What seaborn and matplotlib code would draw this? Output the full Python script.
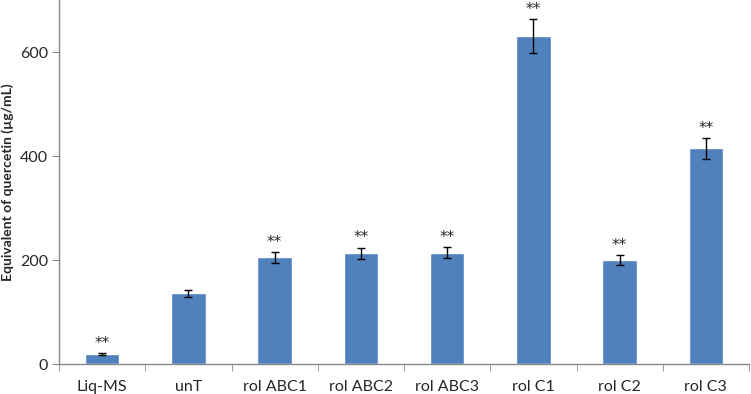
import seaborn as sns
import pandas as pd
import numpy as np
import matplotlib.pyplot as plt
from matplotlib.ticker import FixedLocator

samples = ["Liq-MS", "unT", "rol ABC1", "rol ABC2", "rol ABC3", "rol C1", "rol C2", "rol C3"]
quercetin = [19, 136, 205, 213, 214, 631, 200, 415]
sd = [2, 7, 11, 11, 11, 32, 10, 20]
signif = ["**", "", "**", "**", "**", "**", "**", "**"]

sns.set_style("white")
plt.rcParams['font.family'] = ['Lato', 'DejaVu Sans']

df = pd.DataFrame({"sample": samples, "value": quercetin, "sd": sd})

fig = plt.figure(figsize=(7.51, 3.94), dpi=100)
ax = fig.add_axes([59 / 751, 30 / 394, 690 / 751, 364 / 394])

sns.barplot(data=df, x="sample", y="value", color="#4f81bd", saturation=1,
            width=0.4, errorbar=None, ax=ax)
x = np.arange(len(samples))
ax.errorbar(x, df["value"], yerr=df["sd"], fmt="none", ecolor="black",
            elinewidth=1, capsize=3, capthick=1)

# significance stars above the error bars
for xi, v, e, s in zip(x, quercetin, sd, signif):
    if s:
        ax.text(xi, v + e + 4, s, ha="center", va="bottom", fontsize=11,
                family="DejaVu Sans")

ax.set_xlim(-0.5, len(samples) - 0.5)
ax.set_ylim(0, 700)
ax.set_yticks([0, 200, 400, 600])
ax.set_xlabel("")
ax.set_ylabel("Equivalent of quercetin (µg/mL)", fontsize=10, fontweight="bold")

for side in ["top", "right"]:
    ax.spines[side].set_visible(False)
for side in ["left", "bottom"]:
    ax.spines[side].set_color("#888888")
    ax.spines[side].set_linewidth(1)

ax.tick_params(axis="y", left=True, length=5, color="#888888", labelsize=11.5, pad=3)
ax.tick_params(axis="x", which="major", bottom=False, labelsize=11.5, pad=8)
ax.xaxis.set_minor_locator(FixedLocator(np.arange(-0.5, len(samples), 1.0)))
ax.tick_params(axis="x", which="minor", bottom=True, length=5, color="#888888")

fig.savefig("out.png", dpi=100)
